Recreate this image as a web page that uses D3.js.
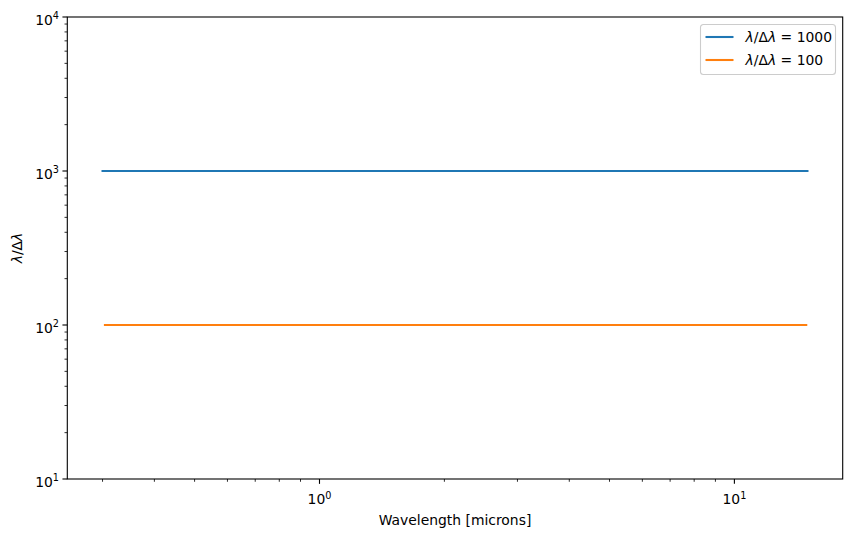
<!DOCTYPE html>
<html lang="en">
<head>
    <meta charset="UTF-8">
    <title>Resolving power vs wavelength</title>
    <script src="https://d3js.org/d3.v7.min.js"></script>
    <style>
        body {
            margin: 0;
            padding: 0;
            background: white;
            overflow: hidden;
        }
        text {
            font-family: "DejaVu Sans", sans-serif;
            font-size: 13.9px;
            fill: black;
        }
        .sup {
            font-size: 9.7px;
        }
    </style>
</head>
<body>
    <svg id="chart" width="851" height="537"></svg>

    <script>
        // Series data: wavelength (microns) and resolving power
        const wavelengthHigh = [0.3, 15];
        const resolutionHigh = [1000, 1000];
        const wavelengthLow = [0.304, 14.9];
        const resolutionLow = [100, 100];
        const seriesLabels = ["1000", "100"];
        const seriesColors = ["#1f77b4", "#ff7f0e"];

        // Tick values
        const xMajorTicks = [1, 10];
        const xMinorTicks = [0.3, 0.4, 0.5, 0.6, 0.7, 0.8, 0.9, 2, 3, 4, 5, 6, 7, 8, 9];
        const yMajorTicks = [10, 100, 1000, 10000];
        const yMinorTicks = [20, 30, 40, 50, 60, 70, 80, 90,
                             200, 300, 400, 500, 600, 700, 800, 900,
                             2000, 3000, 4000, 5000, 6000, 7000, 8000, 9000];

        const plotLeft = 67.3, plotRight = 842.7, plotTop = 17, plotBottom = 479;

        // Log x domain with the 5% margin matplotlib adds
        const allX = wavelengthHigh.concat(wavelengthLow);
        const lo = Math.log10(d3.min(allX)), hi = Math.log10(d3.max(allX));
        const pad = (hi - lo) * 0.05;

        const x = d3.scaleLog()
            .domain([Math.pow(10, lo - pad), Math.pow(10, hi + pad)])
            .range([plotLeft, plotRight]);

        const y = d3.scaleLog()
            .domain([10, 10000])
            .range([plotBottom, plotTop]);

        const svg = d3.select("#chart");

        // Lines
        const series = [
            { xs: wavelengthHigh, ys: resolutionHigh },
            { xs: wavelengthLow, ys: resolutionLow }
        ];
        const line = d3.line().x(d => x(d[0])).y(d => y(d[1]));

        series.forEach((s, i) => {
            svg.append("path")
               .datum(d3.zip(s.xs, s.ys))
               .attr("d", line)
               .attr("fill", "none")
               .attr("stroke", seriesColors[i])
               .attr("stroke-width", 2.08)
               .attr("stroke-linecap", "square");
        });

        // Ticks
        const g = svg.append("g");
        xMajorTicks.forEach(v => {
            g.append("line").attr("x1", x(v)).attr("x2", x(v))
             .attr("y1", plotBottom).attr("y2", plotBottom + 4.86)
             .attr("stroke", "black").attr("stroke-width", 1.1);
        });
        xMinorTicks.forEach(v => {
            g.append("line").attr("x1", x(v)).attr("x2", x(v))
             .attr("y1", plotBottom).attr("y2", plotBottom + 2.78)
             .attr("stroke", "black").attr("stroke-width", 0.83);
        });
        yMajorTicks.forEach(v => {
            g.append("line").attr("x1", plotLeft).attr("x2", plotLeft - 4.86)
             .attr("y1", y(v)).attr("y2", y(v))
             .attr("stroke", "black").attr("stroke-width", 1.1);
        });
        yMinorTicks.forEach(v => {
            g.append("line").attr("x1", plotLeft).attr("x2", plotLeft - 2.78)
             .attr("y1", y(v)).attr("y2", y(v))
             .attr("stroke", "black").attr("stroke-width", 0.83);
        });

        // Tick labels as 10 with superscript exponent
        function powerLabel(sel, v) {
            sel.append("tspan").text("10");
            sel.append("tspan").attr("class", "sup").attr("dy", -5.5)
               .text(Math.round(Math.log10(v)));
        }
        xMajorTicks.forEach(v => {
            const t = svg.append("text")
                .attr("x", x(v)).attr("y", plotBottom + 25)
                .attr("text-anchor", "middle");
            powerLabel(t, v);
        });
        yMajorTicks.forEach(v => {
            const t = svg.append("text")
                .attr("x", plotLeft - 8.3).attr("y", y(v) + 7.5)
                .attr("text-anchor", "end");
            powerLabel(t, v);
        });

        // Frame
        svg.append("rect")
           .attr("x", plotLeft).attr("y", plotTop)
           .attr("width", plotRight - plotLeft).attr("height", plotBottom - plotTop)
           .attr("fill", "none").attr("stroke", "black").attr("stroke-width", 1.1);

        // Axis labels
        svg.append("text")
           .attr("x", (plotLeft + plotRight) / 2).attr("y", plotBottom + 46)
           .attr("text-anchor", "middle")
           .text("Wavelength [microns]");

        function lambdaLabel(sel) {
            sel.append("tspan").attr("font-style", "italic").text("λ");
            sel.append("tspan").text("/Δ");
            sel.append("tspan").attr("font-style", "italic").text("λ");
        }
        const yl = svg.append("text")
           .attr("transform", `translate(${22},${(plotTop + plotBottom) / 2}) rotate(-90)`)
           .attr("text-anchor", "middle");
        lambdaLabel(yl);

        // Legend
        const lg = svg.append("g").attr("transform", "translate(700.5,24.5)");
        lg.append("rect")
          .attr("width", 135).attr("height", 50)
          .attr("rx", 3)
          .attr("fill", "white").attr("fill-opacity", 0.8)
          .attr("stroke", "#cccccc").attr("stroke-width", 1.1);
        seriesLabels.forEach((lab, i) => {
            const yy = 12.5 + i * 23;
            lg.append("line")
              .attr("x1", 5).attr("x2", 33)
              .attr("y1", yy).attr("y2", yy)
              .attr("stroke", seriesColors[i]).attr("stroke-width", 2.08);
            const t = lg.append("text").attr("x", 45).attr("y", yy + 5);
            lambdaLabel(t);
            t.append("tspan").text(" = " + lab);
        });
    </script>
</body>
</html>
